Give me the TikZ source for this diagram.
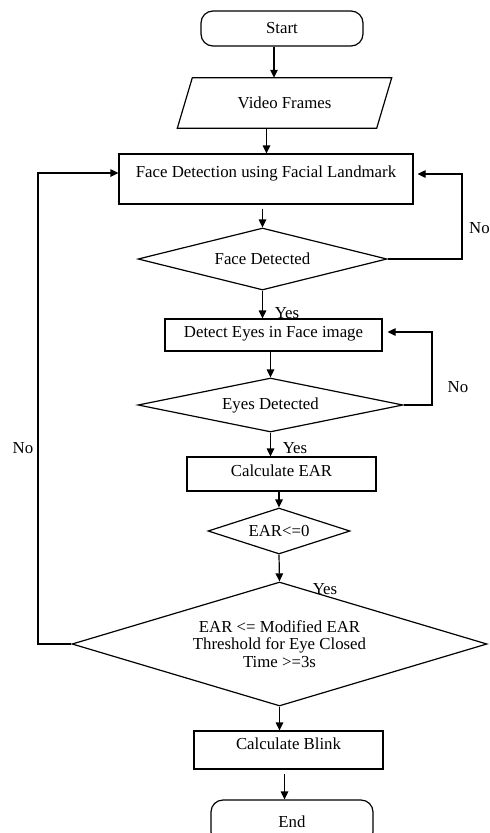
\documentclass[tikz,border=0pt]{standalone}
\usepackage{fontspec}
\setmainfont{Liberation Serif}
\usetikzlibrary{shapes.geometric,arrows.meta,calc}
\begin{document}
\begin{tikzpicture}[x=1pt,y=-1pt,
  every node/.style={font=\fontsize{16.8}{17.5}\selectfont},
  line/.style={line width=1.2pt},
  arr/.style={line width=1.2pt,-{Triangle[length=8pt,width=7.5pt]}},
  boxn/.style={draw,line width=1.2pt,rectangle,inner sep=0pt,align=center},
  roundn/.style={draw,line width=1.2pt,rectangle,rounded corners=12pt,inner sep=0pt},
  dia/.style={draw,line width=1.2pt,diamond,aspect=3,inner sep=0pt,align=center},
  lbl/.style={inner sep=0pt}]
\clip (0,0) rectangle (490,833);
\fill[white] (0,0) rectangle (490,833);

% nodes
\node[roundn,minimum width=162pt,minimum height=35pt] (start) at (282,28.5) {Start};
\node[inner sep=0pt,minimum width=199pt,minimum height=50pt] (video) at (284.5,103) {Video Frames};
\draw[line] ($(video.north west)+(7.5,0)$) -- ($(video.north east)+(7.5,0)$)
  -- ($(video.south east)+(-7.5,0)$) -- ($(video.south west)+(-7.5,0)$) -- cycle;
\node[boxn,minimum width=294pt,minimum height=50pt,text depth=14pt] (face) at (266,179) {Face Detection using Facial Landmark};
\node[dia,minimum width=249pt,minimum height=62pt] (fdet) at (262.5,259) {Face Detected};
\node[boxn,minimum width=217pt,minimum height=32pt,text depth=6pt] (eyes) at (273.5,335) {Detect Eyes in Face image};
\node[dia,minimum width=265pt,minimum height=54pt] (edet) at (270.5,405) {Eyes Detected};
\node[boxn,minimum width=189pt,minimum height=34pt,text depth=7pt] (ear) at (281.5,474) {Calculate EAR};
\node[dia,minimum width=142pt,minimum height=46pt] (ear0) at (279,531) {EAR<=0};
\node[dia,minimum width=415pt,minimum height=124pt,aspect=3.3] (big) at (279.5,644) {EAR <= Modified EAR\\Threshold for Eye Closed\\Time >=3s};
\node[boxn,minimum width=189pt,minimum height=38pt,text depth=12pt] (blink) at (288.5,750) {Calculate Blink};
\node[roundn,minimum width=162pt,minimum height=44pt] (end) at (292,822) {End};

% helper coordinates for vertical arrows
\coordinate (s0) at ($(start.south)+(-8,0)$);
\coordinate (s1) at (s0 |- video.north);
\coordinate (v0) at ($(video.south)+(-18,0)$);
\coordinate (v1) at (v0 |- face.north);
\coordinate (fa0) at ($(face.south -| fdet.north)+(0,4)$);
\coordinate (ey0) at ($(eyes.south)+(-3,0)$);
\coordinate (bl0) at ($(blink.south)+(-4,4)$);
\coordinate (bl1) at (bl0 |- end.north);

% straight arrows
\draw[arr] (s0) -- (s1);
\draw[arr] (v0) -- (v1);
\draw[arr] (fa0) -- (fdet.north);
\draw[arr] (fdet.south) -- (fdet.south |- eyes.north);
\draw[arr] (ey0) -- (edet.north);
\draw[arr] (edet.south) -- (edet.south |- ear.north);
\draw[arr] (ear.south -| ear0.north) -- (ear0.north);
\draw[arr] (ear0.south) -- (big.north);
\draw[arr] (big.south) -- (big.south |- blink.north);
\draw[arr] (bl0) -- (bl1);

% loops
\coordinate (f1) at (462,259);
\coordinate (f2) at (462,174);
\draw[arr,shorten >=4pt] (fdet.east) -- (f1) -- (f2) -- (f2 -| face.east);
\coordinate (e1) at (432,405);
\coordinate (e2) at (432,332);
\draw[arr,shorten >=5pt] (edet.east) -- (e1) -- (e2) -- (e2 -| eyes.east);
\coordinate (b1) at (38,644);
\coordinate (b2) at (38,173);
\draw[arr] (big.west) -- (b1) -- (b2) -- (b2 -| face.west);

% labels
\node[lbl,anchor=west] (no1) at (469,228) {No};
\node[lbl] (no2) at (458,387) {No};
\node[lbl] (no3) at (23,448) {No};
\node[lbl] (yes1) at (287,313) {Yes};
\node[lbl] (yes2) at (295,448) {Yes};
\node[lbl] (yes3) at (325,589) {Yes};
\end{tikzpicture}
\end{document}
